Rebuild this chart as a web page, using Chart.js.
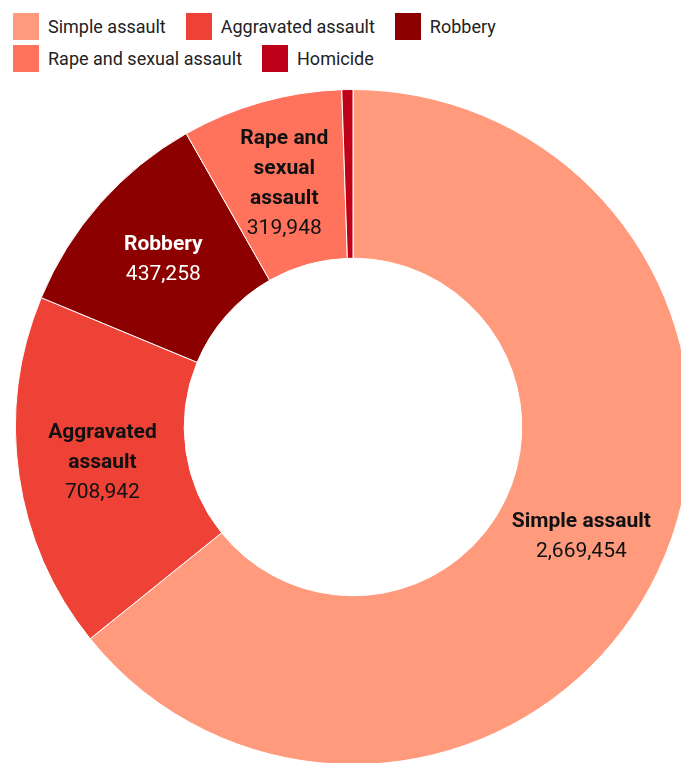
<!DOCTYPE html>
<html>
<head>
<meta charset="utf-8">
<script src="https://cdn.jsdelivr.net/npm/chart.js@4"></script>
<style>
    html, body { margin: 0; padding: 0; width: 681px; height: 763px; overflow: hidden; background: #fff; }
    #legend {
        position: absolute; left: 13px; top: 13px; width: 520px;
        display: flex; flex-wrap: wrap; column-gap: 20px; row-gap: 5px;
        font-family: Roboto, "Liberation Sans", sans-serif; font-size: 18px; color: #222;
    }
    .item { display: flex; align-items: center; height: 27px; }
    .box { width: 26px; height: 27px; margin-right: 9px; }
    #wrap { position: absolute; left: 15px; top: 89px; width: 676px; height: 676px; }
</style>
</head>
<body>
<div id="legend"></div>
<div id="wrap"><canvas id="donut"></canvas></div>
<script>
const categories = ["Simple assault", "Aggravated assault", "Robbery", "Rape and sexual assault", "Homicide"];
const values = [2669454, 708942, 437258, 319948, 22000];
const sliceLabels = [["Simple assault"], ["Aggravated", "assault"], ["Robbery"], ["Rape and", "sexual", "assault"], []];
const valueLabels = ["2,669,454", "708,942", "437,258", "319,948", ""];
const colors = ["#FF9A7D", "#EE4237", "#8C0000", "#FF725C", "#BF0019"];
const labelColors = ["#111", "#111", "#fff", "#111", "#111"];

// legend in html so spacing matches
const legend = document.getElementById("legend");
categories.forEach(function (name, i) {
    const item = document.createElement("div");
    item.className = "item";
    item.innerHTML = '<span class="box" style="background:' + colors[i] + '"></span><span>' + name + "</span>";
    legend.appendChild(item);
});

const sliceText = {
    id: "sliceText",
    afterDatasetsDraw: function (chart) {
        const ctx = chart.ctx;
        const arcs = chart.getDatasetMeta(0).data;
        ctx.save();
        ctx.textAlign = "center";
        ctx.textBaseline = "middle";
        arcs.forEach(function (arc, i) {
            const lines = sliceLabels[i];
            if (!lines.length) return;
            const pos = arc.tooltipPosition();
            const n = lines.length + 1;
            let y = pos.y - ((n - 1) * 30) / 2;
            ctx.fillStyle = labelColors[i];
            ctx.font = "bold 21px Roboto, 'Liberation Sans', sans-serif";
            lines.forEach(function (line) {
                ctx.fillText(line, pos.x, y);
                y += 30;
            });
            ctx.font = "21px Roboto, 'Liberation Sans', sans-serif";
            ctx.fillText(valueLabels[i], pos.x, y);
        });
        ctx.restore();
    },
};

new Chart(document.getElementById("donut"), {
    type: "doughnut",
    data: {
        labels: categories,
        datasets: [
            {
                data: values,
                backgroundColor: colors,
                borderColor: "#fff",
                borderWidth: 1,
            },
        ],
    },
    options: {
        responsive: true,
        maintainAspectRatio: false,
        animation: false,
        cutout: "50%",
        layout: { padding: 0 },
        plugins: {
            legend: { display: false },
            tooltip: { enabled: false },
        },
    },
    plugins: [sliceText],
});
</script>
</body>
</html>
